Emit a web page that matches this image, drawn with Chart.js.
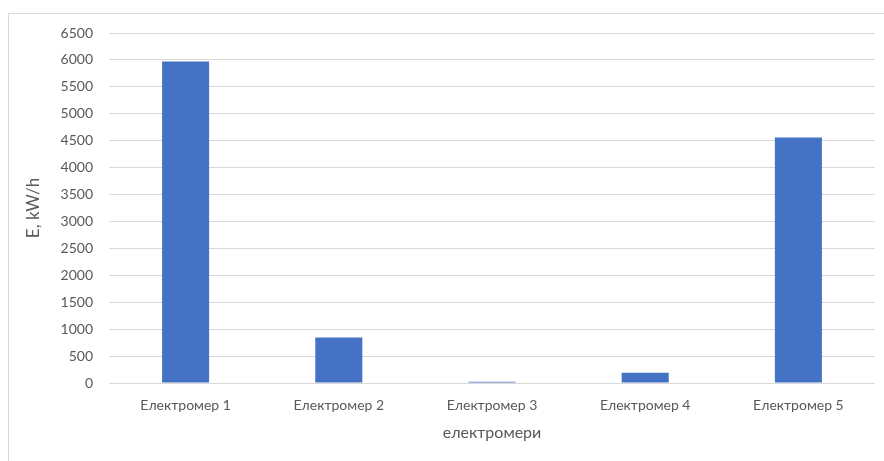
<!DOCTYPE html>
<html>
<head>
<meta charset="utf-8">
<script src="https://cdn.jsdelivr.net/npm/chart.js@4/dist/chart.umd.min.js"></script>
<style>
  html, body { margin: 0; padding: 0; background: #fff; }
  #wrap { position: relative; width: 884px; height: 461px; }
  #frame { position: absolute; left: 8px; top: 13px; width: 900px; height: 460px;
           border-left: 1px solid #d9d9d9; border-top: 1px solid #d9d9d9; pointer-events: none; }
  canvas { position: absolute; left: 0; top: 0; }
</style>
</head>
<body>
<div id="wrap">
  <canvas id="chart" width="884" height="461"></canvas>
  <div id="frame"></div>
</div>
<script>
// chart data
const categories = ['Електромер 1', 'Електромер 2', 'Електромер 3', 'Електромер 4', 'Електромер 5'];
const energy = [5970, 845, 25, 190, 4560];
const yTicks = [0, 500, 1000, 1500, 2000, 2500, 3000, 3500, 4000, 4500, 5000, 5500, 6000, 6500];

const ctx = document.getElementById('chart').getContext('2d');
new Chart(ctx, {
    type: 'bar',
    data: {
        labels: categories,
        datasets: [{
            data: energy,
            backgroundColor: '#4472C4',
            borderWidth: 0,
            categoryPercentage: 1,
            barPercentage: 0.307
        }]
    },
    options: {
        responsive: false,
        animation: false,
        layout: {
            padding: { top: 33, right: 9, bottom: 0, left: 0 }
        },
        plugins: {
            legend: { display: false },
            tooltip: { enabled: false }
        },
        scales: {
            x: {
                afterFit: function(scale) {
                    scale.height = 78;
                },
                grid: { display: false, drawTicks: false },
                border: { display: false },
                ticks: {
                    color: '#595959',
                    padding: 14,
                    maxRotation: 0,
                    font: { family: 'Lato', size: 14 }
                },
                title: {
                    display: true,
                    text: 'електромери',
                    color: '#595959',
                    padding: { top: 0, bottom: 19 },
                    font: { family: 'Lato', size: 16 }
                }
            },
            y: {
                min: 0,
                max: 6500,
                afterBuildTicks: function(scale) {
                    scale.ticks = yTicks.map(v => ({ value: v }));
                },
                afterFit: function(scale) {
                    scale.width = 109;
                },
                grid: { color: '#d9d9d9', lineWidth: 1, drawTicks: false },
                border: { display: false },
                ticks: {
                    color: '#595959',
                    padding: 16,
                    font: { family: 'Lato', size: 14 },
                    callback: function(value) { return String(value); }
                },
                title: {
                    display: true,
                    text: 'E, kW/h',
                    color: '#595959',
                    padding: { top: 23, bottom: 0 },
                    font: { family: 'Lato', size: 17 }
                }
            }
        }
    }
});
</script>
</body>
</html>
